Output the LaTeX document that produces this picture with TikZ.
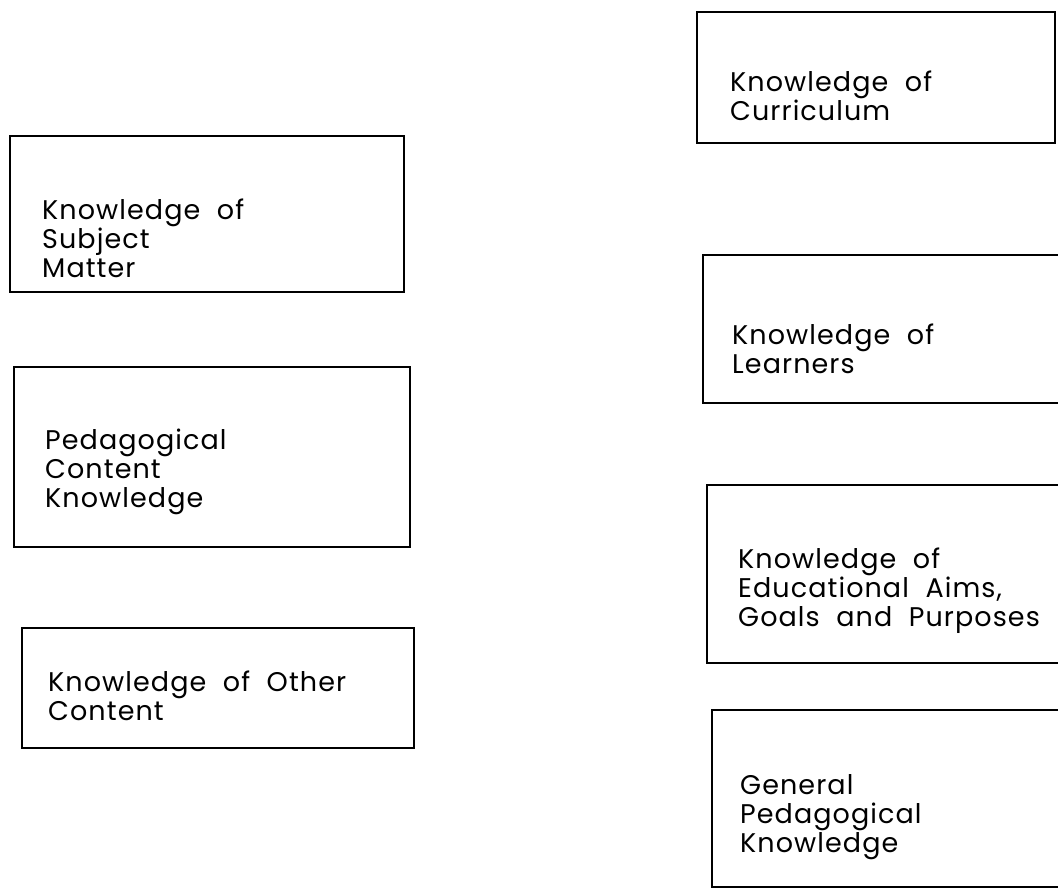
\documentclass[tikz,border=0pt]{standalone}
\usepackage{fontspec}
\setmainfont[LetterSpace=4,WordSpace=2]{Poppins}
\usepackage{tikz}
\tikzstyle{kbox}   = [draw,line width=2.4pt,rectangle,inner sep=0pt,outer sep=0pt,anchor=north west]
\tikzstyle{klabel} = [align=left,anchor=north west,inner sep=0pt,font=\fontsize{27}{29}\selectfont]

\begin{document}
\begin{tikzpicture}[x=1pt,y=-1pt]
                  \clip (0,0) rectangle (1058,890);
                  % left column
                  \node (subjbox)[kbox,minimum width=394pt,minimum height=156pt] at (10,136) {};
                  \node (pedbox)[kbox,minimum width=396pt,minimum height=180pt]  at (14,367) {};
                  \node (otherbox)[kbox,minimum width=392pt,minimum height=120pt] at (22,628) {};
                  \node (subj)[klabel]  at (42,199)  {Knowledge of\\Subject\\Matter};
                  \node (ped)[klabel]   at (45,429)  {Pedagogical\\Content\\Knowledge};
                  \node (other)[klabel] at (48,671)  {Knowledge of Other\\Content};

                  % right column (open to the right)
                  \node (currbox)[kbox,minimum width=358pt,minimum height=131pt]  at (697,12) {};
                  \node (learnbox)[kbox,minimum width=380pt,minimum height=148pt] at (703,255) {};
                  \node (aimsbox)[kbox,minimum width=380pt,minimum height=178pt]  at (707,485) {};
                  \node (genbox)[kbox,minimum width=380pt,minimum height=177pt]   at (712,710) {};
                  \node (curr)[klabel]  at (730,71)  {Knowledge of\\Curriculum};
                  \node (learn)[klabel] at (732,324) {Knowledge of\\Learners};
                  \node (aims)[klabel]  at (738,548) {Knowledge of\\Educational Aims,\\Goals and Purposes};
                  \node (gen)[klabel]   at (740,774) {General\\Pedagogical\\Knowledge};
            \end{tikzpicture}
\end{document}
